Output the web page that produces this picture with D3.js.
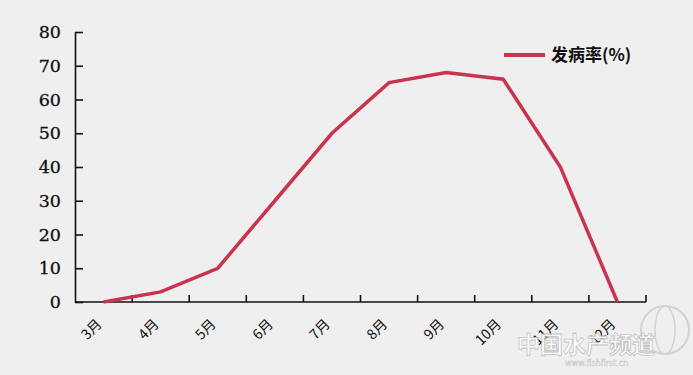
<!DOCTYPE html>
<html><head><meta charset="utf-8">
<script src="https://cdn.jsdelivr.net/npm/d3@7"></script>
<style>body{margin:0;background:#efefef;}svg{display:block;}</style>
</head><body>
<svg id="c" width="693" height="375"></svg>
<script>
const months = ["3月","4月","5月","6月","7月","8月","9月","10月","11月","12月"];
const rate = [0,3,10,30,50,65,68,66,40,0];
const yTicks = [0,10,20,30,40,50,60,70,80];
const seriesName = "发病率(%)";

(function(){
const svg = d3.select("#c");
svg.append("rect").attr("width",693).attr("height",375).attr("fill","#efefef");
const mL=75, mR=646, mT=32, mB=302;
const x = d3.scaleBand().domain(months).range([mL,mR]);
const y = d3.scaleLinear().domain([0,80]).range([mB,mT]);

// y axis
const ya = svg.append("g").attr("transform",`translate(${mL},0)`)
  .call(d3.axisRight(y).tickValues(yTicks).tickSize(8).tickSizeOuter(0).tickFormat(d3.format("d")));
ya.select(".domain").attr("stroke","#111").attr("stroke-width",1.6);
ya.selectAll(".tick line").attr("stroke","#111").attr("stroke-width",1.6);
ya.selectAll(".tick text").attr("x",-14).attr("text-anchor","end")
  .attr("font-family","DejaVu Serif, serif").attr("font-size",17.5).attr("fill","#111")
  .attr("stroke","#111").attr("stroke-width",0.3);

// x axis
const xa = svg.append("g").attr("transform",`translate(0,${mB})`)
  .call(d3.axisTop(x).tickSize(0).tickSizeOuter(0));
xa.select(".domain").remove();
xa.append("line").attr("x1",mL).attr("x2",mR).attr("stroke","#111").attr("stroke-width",1.6);
const bounds = months.map(m=>x(m)+x.bandwidth());
xa.selectAll(".bt").data(bounds).enter().append("line")
  .attr("x1",d=>d).attr("x2",d=>d).attr("y1",0).attr("y2",-7)
  .attr("stroke","#111").attr("stroke-width",1.6);
xa.selectAll(".tick text")
  .attr("font-family","Noto Sans CJK SC, sans-serif").attr("font-size",14).attr("fill","#111")
  .attr("text-anchor","end").attr("dy",null).attr("y",0)
  .attr("transform","translate(-1,23) rotate(-45)");

// line
const line = d3.line().x((d,i)=>x(months[i])+x.bandwidth()/2).y(d=>y(d));
svg.append("path").datum(rate).attr("d",line).attr("fill","none")
  .attr("stroke","#c8344e").attr("stroke-width",3.5).attr("stroke-linejoin","miter");

// legend
svg.append("line").attr("x1",504).attr("x2",545).attr("y1",55).attr("y2",55)
  .attr("stroke","#c8344e").attr("stroke-width",4);
svg.append("text").attr("x",551).attr("y",61).text(seriesName)
  .attr("font-family","Noto Sans CJK SC, sans-serif").attr("font-size",17).attr("font-weight","600").attr("fill","#111");

// watermark
const wm = svg.append("g").attr("opacity",0.9);
wm.append("circle").attr("cx",665).attr("cy",330).attr("r",24).attr("fill","none").attr("stroke","#cfcfcf").attr("stroke-width",2);
wm.append("ellipse").attr("cx",665).attr("cy",330).attr("rx",10).attr("ry",24).attr("fill","none").attr("stroke","#cfcfcf").attr("stroke-width",1.5);
wm.append("text").attr("x",517).attr("y",353).text("中国水产频道")
  .attr("font-family","Noto Sans CJK SC, sans-serif").attr("font-size",23).attr("font-weight","bold")
  .attr("fill","#ffffff").attr("stroke","#bdbdbd").attr("stroke-width",0.8);
wm.append("text").attr("x",565).attr("y",366).text("www.fishfirst.cn")
  .attr("font-family","DejaVu Sans, sans-serif").attr("font-size",8)
  .attr("fill","#fff").attr("stroke","#bbb").attr("stroke-width",0.4);
})();
</script>
</body></html>
